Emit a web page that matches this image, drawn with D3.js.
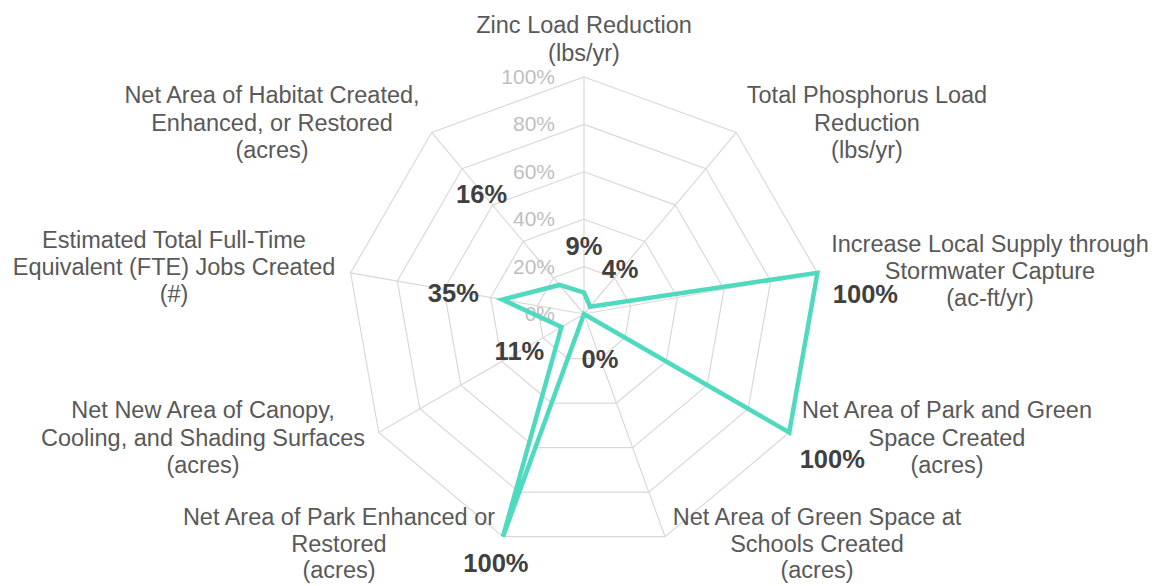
<!DOCTYPE html>
<html>
<head>
<meta charset="utf-8">
<script src="https://cdn.jsdelivr.net/npm/d3@7"></script>
<style>
  html, body { margin: 0; padding: 0; background: #ffffff; }
  svg { display: block; }
</style>
</head>
<body>
<svg id="chart" width="1153" height="586"></svg>
<script>
// ---- data ----
const categories = [
  ["Zinc Load Reduction", "(lbs/yr)"],
  ["Total Phosphorus Load", "Reduction", "(lbs/yr)"],
  ["Increase Local Supply through", "Stormwater Capture", "(ac-ft/yr)"],
  ["Net Area of Park and Green", "Space Created", "(acres)"],
  ["Net Area of Green Space at", "Schools Created", "(acres)"],
  ["Net Area of Park Enhanced or", "Restored", "(acres)"],
  ["Net New Area of Canopy,", "Cooling, and Shading Surfaces", "(acres)"],
  ["Estimated Total Full-Time", "Equivalent (FTE) Jobs Created", "(#)"],
  ["Net Area of Habitat Created,", "Enhanced, or Restored", "(acres)"]
];
const values = [9, 4, 100, 100, 0, 100, 11, 35, 16];
const tickValues = [0, 20, 40, 60, 80, 100];
const tickLabels = ["0%", "20%", "40%", "60%", "80%", "100%"];

// ---- layout (positions relative to chart centre) ----
const catLabelPos = [
  [0, -281], [283, -211], [406, -62], [363, 104], [233, 211],
  [-245, 211], [-381, 104], [-410, -66], [-312, -211]
];
const catLineStep = [27.5, 27.5, 27, 27.5, 26.5, 26.5, 27.5, 27, 27.5];
const valueLabelOffset = [
  [0, -38], [30, -29], [48, 30], [43, 35], [16, 54],
  [-7, 35], [-42, 33], [-49, 2], [-78, -82]
];

const W = 1153, H = 586;
const cx = 584, cy = 314, R = 237;
const font = "'Liberation Sans', Arial, Helvetica, sans-serif";

const svg = d3.select("#chart");
const g = svg.append("g").attr("transform", `translate(${cx},${cy})`);

const n = categories.length;
const angle = d3.scaleLinear().domain([0, n]).range([0, 2 * Math.PI]);
const r = d3.scaleLinear().domain([0, 100]).range([0, R]);

const pt = (i, v) => [Math.sin(angle(i)) * r(v), -Math.cos(angle(i)) * r(v)];

// grid rings
const ringLine = d3.lineRadial().curve(d3.curveLinearClosed);
g.append("g").selectAll("path").data(tickValues.filter(t => t > 0)).join("path")
  .attr("d", t => ringLine(d3.range(n).map(i => [angle(i), r(t)])))
  .attr("fill", "none")
  .attr("stroke", "#d9d9d9")
  .attr("stroke-width", 1.2);

// spokes
g.append("g").selectAll("line").data(d3.range(n)).join("line")
  .attr("x1", 0).attr("y1", 0)
  .attr("x2", i => pt(i, 100)[0])
  .attr("y2", i => pt(i, 100)[1])
  .attr("stroke", "#d9d9d9")
  .attr("stroke-width", 1.2);

// tick labels
g.append("g").selectAll("text").data(tickValues).join("text")
  .attr("x", -29)
  .attr("y", t => -r(t) + 7)
  .attr("text-anchor", "end")
  .attr("font-family", font)
  .attr("font-size", 21)
  .attr("fill", "#bfbfbf")
  .text((t, i) => tickLabels[i]);

// data line
const dataLine = d3.lineRadial()
  .angle((d, i) => angle(i))
  .radius(d => r(d))
  .curve(d3.curveLinearClosed);
g.append("path")
  .attr("d", dataLine(values))
  .attr("fill", "none")
  .attr("stroke", "#4fd9bf")
  .attr("stroke-width", 4.5)
  .attr("stroke-linejoin", "miter");

// value labels
g.append("g").selectAll("text").data(values).join("text")
  .attr("x", (v, i) => pt(i, v)[0] + valueLabelOffset[i][0])
  .attr("y", (v, i) => pt(i, v)[1] + valueLabelOffset[i][1])
  .attr("text-anchor", "middle")
  .attr("font-family", font)
  .attr("font-weight", "bold")
  .attr("font-size", 25.5)
  .attr("fill", "#404040")
  .text(v => v + "%");

// category labels
const cat = g.append("g").selectAll("text").data(categories).join("text")
  .attr("text-anchor", "middle")
  .attr("font-family", font)
  .attr("font-size", 23.5)
  .attr("fill", "#595959")
  .attr("transform", (d, i) => `translate(${catLabelPos[i][0]},${catLabelPos[i][1]})`);
cat.selectAll("tspan").data((d, i) => d.map(line => ({ line, step: catLineStep[i] }))).join("tspan")
  .attr("x", 0)
  .attr("dy", (d, j) => j === 0 ? 0 : d.step)
  .text(d => d.line);
</script>
</body>
</html>
